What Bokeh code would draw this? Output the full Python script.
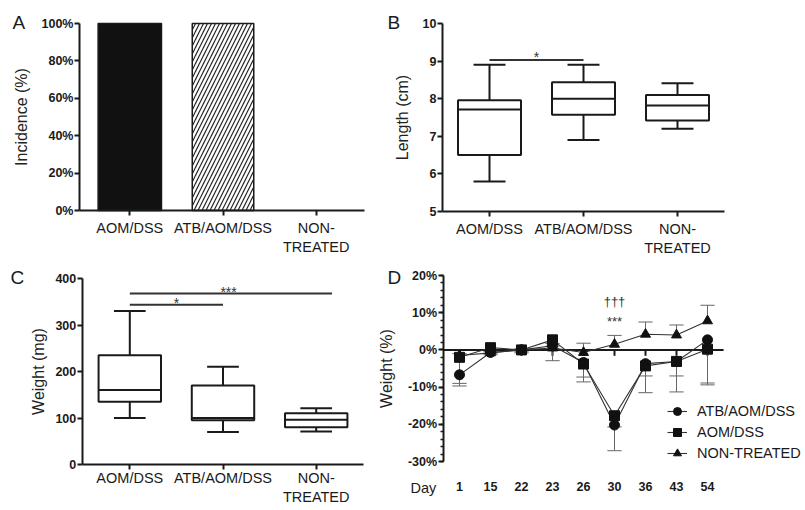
import numpy as np
from bokeh.plotting import figure
from bokeh.models import (Range1d, FixedTicker, PrintfTickFormatter, Label, Legend,
                          LegendItem, SingleIntervalTicker)
from bokeh.layouts import column, row
from bokeh.embed import file_html
from bokeh.resources import INLINE
from bokeh.core.properties import value

# ---------------- data ----------------
groups = ["AOM/DSS", "ATB/AOM/DSS", "NON-TREATED"]
group_labels = ["AOM/DSS", "ATB/AOM/DSS", "NON-\nTREATED"]

incidence = [100, 100, 0]

length_lo = [5.8, 6.9, 7.2]
length_q1 = [6.5, 7.57, 7.42]
length_med = [7.71, 8.0, 7.82]
length_q3 = [7.96, 8.44, 8.1]
length_hi = [8.9, 8.9, 8.41]

weight_lo = [100, 70, 71]
weight_q1 = [135, 95, 80]
weight_med = [160, 100, 96]
weight_q3 = [235, 170, 110]
weight_hi = [330, 210, 121]

days = ["1", "15", "22", "23", "26", "30", "36", "43", "54"]
atb = [-6.7, -0.7, 0.0, 1.1, -3.4, -20.2, -3.7, -3.1, 2.7]
atb_err = [2.3, 0.6, 0.8, 4.0, 3.9, 6.9, 3.3, 3.9, 11.6]
aom = [-2.0, 0.6, 0.0, 2.7, -3.8, -17.7, -4.3, -3.1, 0.2]
aom_err = [7.7, 1.5, 0.5, 1.0, 4.8, 3.0, 7.2, 8.2, 9.6]
nt = [-1.5, -0.8, 0.0, 0.5, -0.7, 1.5, 4.2, 4.0, 7.8]
nt_err = [0.5, 0.4, 0.3, 0.5, 2.5, 2.4, 3.3, 2.7, 4.2]

# significance brackets: (start group, end group, height, text)
length_sig = [(0, 1, 9.03, "*")]
weight_sig = [(0, 1, 343.5, "*"), (0, 2.17, 368.0, "***")]

FONT = "Liberation Sans"
INK = "#1a1a1a"


def make_fig(cw, ch, ox, oy, xa, xb, ya, yb):
    """Figure whose frame fills the canvas; ranges chosen from two pixel anchors per axis."""
    (pxa, va), (pxb, vb) = xa, xb
    kx = (pxb - pxa) / (vb - va)
    x0 = va - (pxa - ox) / kx
    x1 = x0 + cw / kx
    (pya, wa), (pyb, wb) = ya, yb
    ky = (pyb - pya) / (wa - wb)
    ytop = wa + (pya - oy) / ky
    ybot = ytop - ch / ky
    p = figure(width=cw, height=ch, x_range=Range1d(x0, x1), y_range=Range1d(ybot, ytop),
               min_border=0, min_border_left=0, min_border_right=0, min_border_top=0,
               min_border_bottom=0, output_backend="svg", toolbar_location=None, tools="")
    p.outline_line_color = None
    p.grid.grid_line_color = None
    p.background_fill_color = "white"
    p.border_fill_color = "white"
    for ax in p.axis:
        ax.axis_line_width = 2
        ax.axis_line_color = INK
        ax.major_tick_line_width = 2
        ax.major_tick_line_color = INK
        ax.major_tick_out = 5
        ax.major_tick_in = 0
        ax.minor_tick_line_color = None
        ax.major_label_text_font = FONT
        ax.major_label_text_color = INK
        ax.axis_label_text_font = FONT
        ax.axis_label_text_font_style = "normal"
        ax.axis_label_text_font_size = "16px"
        ax.axis_label_text_color = "#222222"
    p.yaxis.major_label_text_font_style = "bold"
    p.yaxis.major_label_text_font_size = "12.5px"
    p.yaxis.major_label_standoff = 1
    return p


def place_axes(p, xlo, xhi, ylo, yhi):
    p.xaxis.fixed_location = ylo
    p.xaxis.bounds = (xlo, xhi)
    p.yaxis.fixed_location = xlo
    p.yaxis.bounds = (ylo, yhi)


def cat_xaxis(p, standoff):
    xs = list(range(len(groups)))
    p.xaxis.ticker = FixedTicker(ticks=xs)
    p.xaxis.major_label_overrides = {i: group_labels[i] for i in xs}
    p.xaxis.major_label_text_font_size = "14.5px"
    p.xaxis.major_label_text_font_style = "normal"
    p.xaxis.major_label_standoff = standoff


def screen_text(p, txt, x, y, size):
    p.add_layout(Label(x=x, y=y, x_units="screen", y_units="screen", text=txt,
                       text_font=FONT, text_font_size=size, text_color=INK,
                       text_baseline="alphabetic", text_align="left"))


def boxes(p, lo, q1, med, q3, hi):
    xs = np.arange(len(groups))
    bw, cw = 0.67, 0.34
    p.segment(x0=xs, x1=xs, y0=q3, y1=hi, line_color=INK, line_width=2)
    p.segment(x0=xs, x1=xs, y0=lo, y1=q1, line_color=INK, line_width=2)
    p.segment(x0=xs - cw / 2, x1=xs + cw / 2, y0=hi, y1=hi, line_color=INK, line_width=2)
    p.segment(x0=xs - cw / 2, x1=xs + cw / 2, y0=lo, y1=lo, line_color=INK, line_width=2)
    p.vbar(x=xs, bottom=q1, top=q3, width=bw, fill_color="white", line_color=INK,
           line_width=2)
    p.segment(x0=xs - bw / 2, x1=xs + bw / 2, y0=med, y1=med, line_color=INK, line_width=2)


def sig(p, items, dy):
    x0 = [a for a, b, h, t in items]
    x1 = [b for a, b, h, t in items]
    hs = [h for a, b, h, t in items]
    p.segment(x0=x0, x1=x1, y0=hs, y1=hs, line_color="#333333", line_width=2)
    xm = [(a + min(b, 2)) / 2 + (0.06 if b > 2 else 0) for a, b, h, t in items]
    p.text(x=xm, y=[h + dy for h in hs], text=[t for a, b, h, t in items],
           text_font=value(FONT), text_font_size="14px", text_color="#333333",
           text_align="center", text_baseline="middle")


H1, H2 = 255, 254

# ---------------- A ----------------
pA = make_fig(383, H1, 0, 0, (129.3, 0), (315.7, 2), (23, 100), (210, 0))
place_axes(pA, -0.54, 2.52, 0, 100)
xsA = np.arange(len(groups))
pA.vbar(x=xsA[:1], top=incidence[:1], width=0.68, fill_color="#111111", line_color=INK,
        line_width=1.5)
pA.vbar(x=xsA[1:2], top=incidence[1:2], width=0.66, fill_color="white", line_color=INK,
        line_width=1.5, hatch_pattern="/", hatch_color="#222222", hatch_scale=8,
        hatch_weight=1.2)
pA.vbar(x=xsA[2:], top=incidence[2:], width=0.64, fill_color="white", line_color="#bbbbbb",
        line_width=1)
pA.yaxis.ticker = FixedTicker(ticks=[0, 20, 40, 60, 80, 100])
pA.yaxis.formatter = PrintfTickFormatter(format="%d%%")
pA.yaxis.axis_label = "Incidence (%)"
pA.yaxis.axis_label_standoff = 9
cat_xaxis(pA, 4)
screen_text(pA, "A", 12, H1 - 21.7, "19px")

# ---------------- B ----------------
pB = make_fig(421, H1, 383, 0, (489, 0), (677, 2), (23, 10), (211, 5))
place_axes(pB, -0.5, 2.5, 5, 10)
boxes(pB, length_lo, length_q1, length_med, length_q3, length_hi)
sig(pB, length_sig, 0.08)
pB.yaxis.ticker = FixedTicker(ticks=[5, 6, 7, 8, 9, 10])
pB.yaxis.axis_label = "Length (cm)"
pB.yaxis.axis_label_standoff = 9
cat_xaxis(pB, 4)
screen_text(pB, "B", 4, H1 - 21.7, "19px")

# ---------------- C ----------------
pC = make_fig(376, H2, 0, 255, (129.3, 0), (315.7, 2), (278, 400), (464, 0))
place_axes(pC, -0.51, 2.51, 0, 400)
boxes(pC, weight_lo, weight_q1, weight_med, weight_q3, weight_hi)
sig(pC, weight_sig, 4)
pC.yaxis.ticker = FixedTicker(ticks=[0, 100, 200, 300, 400])
pC.yaxis.axis_label = "Weight (mg)"
pC.yaxis.axis_label_standoff = 6
cat_xaxis(pC, 0)
screen_text(pC, "C", 10, H2 - 21.5, "19px")

# ---------------- D ----------------
pD = make_fig(428, H2, 376, 255, (459, 0), (707, 8), (275, 20), (461, -30))
place_axes(pD, -0.53, 8.52, -30, 20)
xd = np.arange(len(days))
pD.yaxis.ticker = SingleIntervalTicker(interval=10, num_minor_ticks=5)
pD.yaxis.formatter = PrintfTickFormatter(format="%d%%")
pD.yaxis.minor_tick_line_color = INK
pD.yaxis.minor_tick_line_width = 1.5
pD.yaxis.minor_tick_out = 3
pD.yaxis.minor_tick_in = 0
pD.yaxis.axis_label = "Weight (%)"
pD.yaxis.axis_label_standoff = 10
pD.xaxis.ticker = FixedTicker(ticks=list(xd))
pD.xaxis.major_label_overrides = {int(i): days[i] for i in xd}
pD.xaxis.axis_line_color = None
pD.xaxis.major_tick_line_color = None
pD.xaxis.major_label_text_font_style = "bold"
pD.xaxis.major_label_text_font_size = "12.5px"
pD.xaxis.major_label_standoff = 15

# zero reference line with day ticks
pD.segment(x0=[-0.53], x1=[8.52], y0=[0], y1=[0], line_color=INK, line_width=2)
pD.segment(x0=xd, x1=xd, y0=0, y1=-1.6, line_color=INK, line_width=2)

ERR = "#666666"
cap = 0.23
atb_lo = np.array(atb) - np.array(atb_err)
aom_lo = np.array(aom) - np.array(aom_err)
nt_hi = np.array(nt) + np.array(nt_err)
for yv, ye in [(atb, atb_lo), (aom, aom_lo), (nt, nt_hi)]:
    pD.segment(x0=xd, x1=xd, y0=yv, y1=ye, line_color=ERR, line_width=1)
    pD.segment(x0=xd - cap, x1=xd + cap, y0=ye, y1=ye, line_color=ERR, line_width=1)

LC = "#333333"
l_nt = pD.line(xd, nt, line_color=LC, line_width=1.1)
s_nt = pD.scatter(xd, nt, marker="triangle", size=10, fill_color="#111111", line_color="#111111")
l_atb = pD.line(xd, atb, line_color=LC, line_width=1.1)
s_atb = pD.scatter(xd, atb, marker="circle", size=10, fill_color="#111111", line_color="#111111")
l_aom = pD.line(xd, aom, line_color=LC, line_width=1.1)
s_aom = pD.scatter(xd, aom, marker="square", size=10, fill_color="#111111", line_color="#111111")

pD.text(x=[5, 5], y=[13.0, 7.6], text=["†††", "***"], text_font=value(FONT),
        text_font_size="13px", text_color="#333333", text_align="center",
        text_baseline="middle")

legend = Legend(items=[LegendItem(label="ATB/AOM/DSS", renderers=[l_atb, s_atb]),
                       LegendItem(label="AOM/DSS", renderers=[l_aom, s_aom]),
                       LegendItem(label="NON-TREATED", renderers=[l_nt, s_nt])],
                location=(291, 46), glyph_width=20, glyph_height=20, label_height=20,
                label_standoff=10, spacing=1, padding=0, margin=0,
                border_line_color=None, background_fill_alpha=0,
                label_text_font=FONT, label_text_font_size="14.5px",
                label_text_color=INK)
pD.add_layout(legend)

screen_text(pD, "Day", 34, H2 - 232, "14.5px")
screen_text(pD, "D", 11, H2 - 22, "19px")

layout = column(row(pA, pB), row(pC, pD))
open("out.html", "w").write(file_html(layout, INLINE))
